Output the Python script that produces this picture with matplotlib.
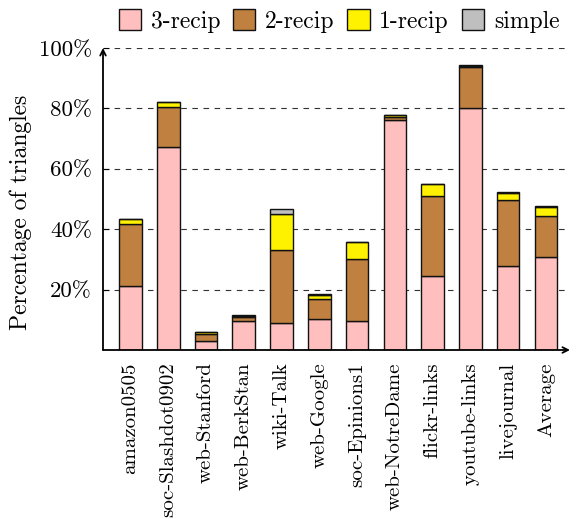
import matplotlib
matplotlib.use("Agg")
import matplotlib.pyplot as plt
import numpy as np

categories = ["amazon0505", "soc-Slashdot0902", "web-Stanford", "web-BerkStan",
              "wiki-Talk", "web-Google", "soc-Epinions1", "web-NotreDame",
              "flickr-links", "youtube-links", "livejournal", "Average"]
recip3 = [21.2, 67.2, 3.1, 9.6, 8.8, 10.4, 9.7, 76.0, 24.4, 80.0, 27.9, 30.7]
recip2 = [20.4, 13.2, 2.3, 1.4, 24.4, 6.4, 20.3, 1.0, 26.6, 13.7, 21.8, 13.8]
recip1 = [1.7, 1.6, 0.5, 0.4, 11.7, 1.5, 5.6, 0.7, 4.0, 0.5, 2.4, 2.8]
simple = [0.1, 0.0, 0.1, 0.1, 1.9, 0.1, 0.1, 0.1, 0.1, 0.1, 0.1, 0.3]
series_names = ["3-recip", "2-recip", "1-recip", "simple"]
colors = ["#FFBFBF", "#BF8040", "#FFF200", "#BFBFBF"]
yticks = [20, 40, 60, 80, 100]
ytick_labels = ["20%", "40%", "60%", "80%", "100%"]

plt.rcParams["font.family"] = ["cmr10", "DejaVu Serif"]
plt.rcParams["axes.formatter.use_mathtext"] = True
plt.rcParams["mathtext.fontset"] = "cm"

fig = plt.figure(figsize=(5.77, 5.19), dpi=100)
ax = fig.add_axes([103 / 577, 1 - 350 / 519, (570 - 103) / 577, (350 - 48) / 519])

x = np.arange(len(categories))
bottom = np.zeros(len(categories))
handles = []
for name, vals, col in zip(series_names, [recip3, recip2, recip1, simple], colors):
    v = np.array(vals)
    b = ax.bar(x, v, 0.6, bottom=bottom, color=col, edgecolor="#111111",
               linewidth=1.0, label=name, zorder=3)
    handles.append(b)
    bottom += v

ax.set_xlim(-0.73, 11.64)
ax.set_ylim(0, 100)
for yv in yticks:
    ax.axhline(yv, color="#333333", linewidth=0.8, linestyle=(0, (5, 5)), zorder=1)

for s in ["top", "right", "left", "bottom"]:
    ax.spines[s].set_visible(False)
ax.annotate("", xy=(1.0, 0), xytext=(0, 0), xycoords="axes fraction",
            arrowprops=dict(arrowstyle="->", lw=1.3, color="black",
                            shrinkA=0, shrinkB=0), zorder=5)
ax.annotate("", xy=(0, 1.0), xytext=(0, 0), xycoords="axes fraction",
            arrowprops=dict(arrowstyle="->", lw=1.3, color="black",
                            shrinkA=0, shrinkB=0), zorder=5)

ax.set_yticks(yticks)
ax.set_yticklabels(ytick_labels, fontsize=16.5)
ax.tick_params(axis="y", direction="in", length=4, width=0.8, pad=8)
ax.set_xticks(x)
ax.set_xticklabels(categories, rotation=90, fontsize=15)
ax.tick_params(axis="x", length=0, pad=9)
ax.set_ylabel("Percentage of triangles", fontsize=17)
ax.yaxis.set_label_coords(-0.152, 0.457)

fig.legend(handles=handles, labels=series_names, loc="center",
           bbox_to_anchor=(339 / 577, 1 - 21 / 519), ncol=4, frameon=False,
           fontsize=17, handlelength=0.95, handleheight=0.95,
           handletextpad=0.4, columnspacing=0.55, borderaxespad=0)

fig.savefig("out.png", dpi=100)
